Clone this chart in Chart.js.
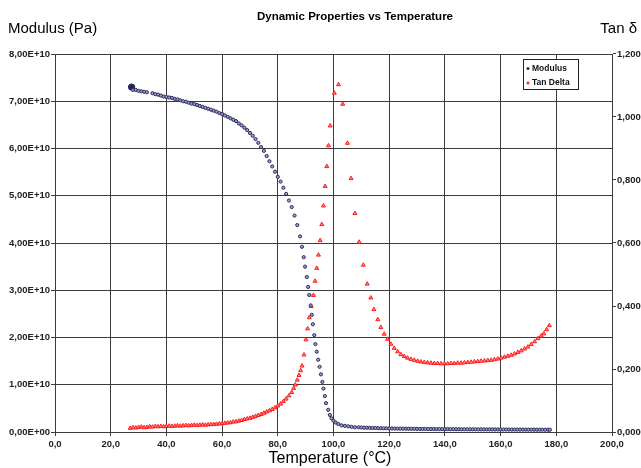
<!DOCTYPE html>
<html><head><meta charset="utf-8">
<script src="https://cdn.jsdelivr.net/npm/chart.js@4"></script>
<style>html,body{margin:0;padding:0;background:#fff}#wrap{width:641px;height:468px}</style>
</head><body><div id="wrap"><canvas id="c" width="641" height="468"></canvas></div>
<script>
// ---- Data ----
const modulusT = [27.5,28,29,30,31,32,33,35,36,37,38,39,40,41,42,43,44,45,46,47,48,49,50,51,52,53,54,55,56,57,58,59,60,61,62,63,64,65,66,67,68,69,70,71,72,73,74,75,76,77,78,79,80,81,82,83,84,85,86,87,88,88.7,89.3,89.8,90.4,90.9,91.3,91.8,92.2,92.6,93.1,93.5,94,94.5,95,95.5,96,96.4,96.9,97.3,98.1,98.7,99.3,100,100.8,101.7,102.9,104.1,105.3,106.5,107.7,109,110,111,112,113,114,115,116,117,118,119,120,121,122,123,124,125,126,127,128,129,130,131,132,133,134,135,136,137,138,139,140,141,142,143,144,145,146,147,148,149,150,151,152,153,154,155,156,157,158,159,160,161,162,163,164,165,166,167,168,169,170,171,172,173,174,175,176,177,177.7];
const modulusPa = [7.30,7.24,7.24,7.22,7.21,7.20,7.19,7.17,7.15,7.14,7.12,7.10,7.09,7.08,7.07,7.05,7.04,7.02,7.00,6.99,6.97,6.95,6.94,6.92,6.90,6.88,6.86,6.84,6.82,6.80,6.78,6.75,6.73,6.70,6.67,6.64,6.61,6.58,6.53,6.49,6.44,6.39,6.33,6.27,6.20,6.12,6.03,5.95,5.84,5.73,5.62,5.51,5.40,5.30,5.17,5.04,4.90,4.76,4.58,4.38,4.14,3.92,3.70,3.50,3.28,3.07,2.90,2.68,2.48,2.28,2.05,1.86,1.70,1.53,1.38,1.22,1.06,0.92,0.76,0.61,0.47,0.36,0.29,0.24,0.20,0.17,0.14,0.13,0.12,0.11,0.10,0.10,0.095,0.09,0.09,0.088,0.085,0.085,0.08,0.08,0.078,0.078,0.075,0.075,0.072,0.072,0.07,0.07,0.07,0.068,0.068,0.066,0.066,0.065,0.065,0.064,0.064,0.063,0.063,0.062,0.062,0.061,0.061,0.06,0.06,0.06,0.059,0.059,0.058,0.058,0.058,0.057,0.057,0.056,0.056,0.056,0.055,0.055,0.055,0.054,0.054,0.054,0.053,0.053,0.053,0.052,0.052,0.052,0.051,0.051,0.051,0.05,0.05,0.05,0.05,0.049,0.049,0.049,0.048,0.048,0.048,0.047,0.047];
const tanT = [27,28,29,30,31,32,33,34,35,36,37,38,39,40,41,42,43,44,45,46,47,48,49,50,51,52,53,54,55,56,57,58,59,60,61,62,63,64,65,66,67,68,69,70,71,72,73,74,75,76,77,78,79,80,81,82,83,84,85,85.7,86.3,87,87.6,88.2,88.7,89.4,90.1,90.7,91.3,92.0,92.8,93.4,94.0,94.6,95.2,95.8,96.4,97.0,97.6,98.2,98.8,100.3,101.8,103.3,105.0,106.3,107.7,109.2,110.7,112.1,113.4,114.5,115.9,117,118.2,119.4,120.6,121.8,123,124.2,125.4,126.6,127.8,129,130.2,131.4,132.6,133.8,135,136.2,137.4,138.6,139.8,141,142.2,143.4,144.6,145.8,147,148.2,149.4,150.6,151.8,153,154.2,155.4,156.6,157.8,159,160.2,161.4,162.6,163.8,165,166.2,167.4,168.6,169.8,171,172.2,173.4,174.6,175.5,176.5,177.5];
const tanDelta = [0.012,0.014,0.013,0.015,0.016,0.014,0.015,0.017,0.016,0.018,0.017,0.018,0.017,0.018,0.019,0.018,0.019,0.020,0.019,0.020,0.021,0.020,0.021,0.022,0.021,0.022,0.023,0.022,0.023,0.024,0.024,0.025,0.026,0.027,0.028,0.029,0.030,0.032,0.033,0.035,0.037,0.040,0.042,0.044,0.047,0.050,0.053,0.056,0.060,0.064,0.068,0.072,0.077,0.083,0.089,0.097,0.105,0.115,0.126,0.139,0.150,0.165,0.180,0.195,0.21,0.245,0.293,0.328,0.363,0.399,0.434,0.479,0.52,0.562,0.608,0.659,0.718,0.78,0.843,0.909,0.972,1.076,1.103,1.041,0.917,0.805,0.694,0.603,0.53,0.47,0.426,0.389,0.357,0.332,0.311,0.295,0.279,0.266,0.255,0.246,0.240,0.235,0.231,0.228,0.225,0.223,0.221,0.220,0.219,0.218,0.218,0.217,0.217,0.217,0.218,0.218,0.219,0.219,0.220,0.221,0.222,0.223,0.224,0.225,0.226,0.227,0.228,0.230,0.232,0.235,0.238,0.241,0.244,0.248,0.253,0.258,0.264,0.270,0.278,0.287,0.297,0.305,0.312,0.325,0.338];
const xTicks = [0,20,40,60,80,100,120,140,160,180,200];
const modulusScale = 1e10;

// ---- Chart ----
const modData = modulusT.map((t,i)=>({x:t,y:modulusPa[i]*modulusScale}));
const tanData = tanT.map((t,i)=>({x:t,y:tanDelta[i]}));
const tickFont = {family:'Liberation Sans, Arial, sans-serif', size:9.5, weight:'bold'};
const gridCol = '#3c3c3c';

const textPlugin = {
  id:'texts',
  afterDraw(chart){
    const ctx = chart.ctx;
    ctx.save();
    ctx.fillStyle = '#000';
    ctx.textBaseline = 'middle';
    ctx.font = 'bold 11.5px "Liberation Sans", Arial, sans-serif';
    ctx.textAlign = 'center';
    ctx.fillText('Dynamic Properties vs Temperature', 355, 17);
    ctx.font = '15px "Liberation Sans", Arial, sans-serif';
    ctx.textAlign = 'left';
    ctx.fillText('Modulus (Pa)', 8, 29);
    ctx.textAlign = 'right';
    ctx.fillText('Tan δ', 637, 29);
    ctx.textAlign = 'center';
    ctx.font = '16px "Liberation Sans", Arial, sans-serif';
    ctx.fillText('Temperature (°C)', 330, 459);
    // legend
    const lx = 523, ly = 59, lw = 55, lh = 30;
    ctx.fillStyle = '#fff';
    ctx.fillRect(lx, ly, lw, lh);
    ctx.strokeStyle = '#222'; ctx.lineWidth = 1;
    ctx.strokeRect(lx+0.5, ly+0.5, lw, lh);
    ctx.font = 'bold 8.5px "Liberation Sans", Arial, sans-serif';
    ctx.textAlign = 'left';
    ctx.fillStyle = '#111';
    const ds = chart.data.datasets;
    ctx.fillText(ds[0].label, 532, 68.5);
    ctx.fillText(ds[1].label, 532, 83);
    ctx.fillStyle = '#2a2a66';
    ctx.beginPath(); ctx.arc(528, 68.5, 1.5, 0, Math.PI*2); ctx.fill();
    ctx.fillStyle = '#ff2a2a';
    ctx.beginPath(); ctx.arc(528, 83, 1.5, 0, Math.PI*2); ctx.fill();
    ctx.restore();
  }
};

new Chart(document.getElementById('c'), {
  type:'scatter',
  data:{datasets:[
    {label:'Modulus', data:modData, yAxisID:'y', pointStyle:'circle',
     pointRadius:(c)=>c.dataIndex===0?3.2:1.6, borderWidth:1,
     borderColor:'#2a2a62', backgroundColor:'#a0a0c0', pointBackgroundColor:(c)=>c.dataIndex===0?'#23235e':'#a0a0c0'},
    {label:'Tan Delta', data:tanData, yAxisID:'y1', pointStyle:'triangle',
     pointRadius:2.3, borderWidth:1, borderColor:'#ff1a1a', backgroundColor:'#ff8a8a'}
  ]},
  plugins:[textPlugin],
  options:{
    responsive:false, animation:false, events:[],
    layout:{padding:{top:54,left:0,right:0,bottom:0}, autoPadding:false},
    plugins:{legend:{display:false}, title:{display:false}, tooltip:{enabled:false}},
    scales:{
      x:{type:'linear', position:'bottom', min:0, max:200,
        afterBuildTicks:(s)=>{s.ticks = xTicks.map(v=>({value:v}));},
        afterFit:(s)=>{s.height=36;},
        ticks:{font:tickFont, color:'#222', padding:3, maxRotation:0, autoSkip:false,
          callback:(v)=>v.toFixed(1).replace('.',',')},
        grid:{color:gridCol, lineWidth:1, tickLength:4, drawTicks:true},
        border:{display:true, color:gridCol}},
      y:{type:'linear', position:'left', min:0, max:8e10,
        afterBuildTicks:(s)=>{const t=[];for(let i=0;i<=8;i++)t.push({value:i*1e10});s.ticks=t;},
        afterFit:(s)=>{s.width=55;},
        ticks:{font:tickFont, color:'#222', padding:1,
          callback:(v)=> v===0 ? '0,00E+00' : (v/1e10).toFixed(2).replace('.',',')+'E+10'},
        grid:{color:gridCol, lineWidth:1, tickLength:4},
        border:{display:true, color:gridCol}},
      y1:{type:'linear', position:'right', min:0, max:1.2,
        afterBuildTicks:(s)=>{const t=[];for(let i=0;i<=6;i++)t.push({value:i*0.2});s.ticks=t;},
        afterFit:(s)=>{s.width=29;},
        ticks:{font:tickFont, color:'#222', padding:1,
          callback:(v)=>v.toFixed(3).replace('.',',')},
        grid:{drawOnChartArea:false, color:gridCol, tickLength:4},
        border:{display:true, color:gridCol}}
    }
  }
});
</script></body></html>
